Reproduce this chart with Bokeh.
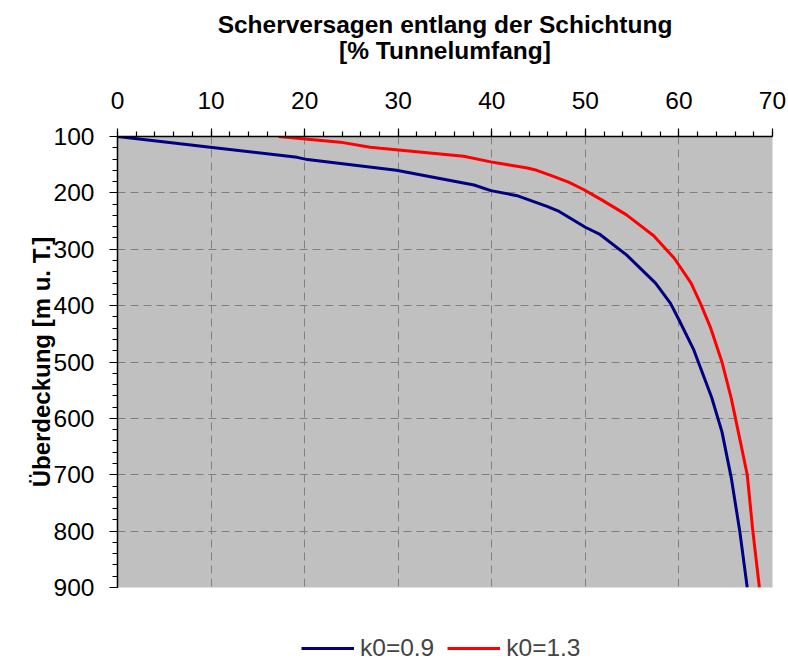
from bokeh.plotting import figure
from bokeh.layouts import column
from bokeh.models import (Range1d, SingleIntervalTicker, Legend, LegendItem, Title)
from bokeh.embed import file_html
from bokeh.resources import INLINE

# ---- data ----
k09_x = [0, 6.7, 9.9, 19.2, 20.3, 29.8, 38.1, 39.9, 42.7, 45.9, 47.2, 50.0,
         51.5, 54.4, 57.5, 59.1, 60.0, 61.6, 63.5, 64.6, 65.6, 66.5, 67.3]
k09_y = [100, 113, 119, 137, 141, 160, 186, 196, 205, 224, 233, 261,
         273, 310, 360, 396, 425, 479, 563, 624, 706, 800, 900]
k13_x = [17.2, 23.8, 27.0, 28.1, 37.0, 39.9, 43.8, 44.8, 46.3, 48.2, 49.8,
         51.7, 54.4, 57.3, 59.5, 61.3, 62.3, 63.4, 64.6, 65.6, 66.6, 67.3,
         67.9, 68.6]
k13_y = [100, 110, 119, 121, 135, 145, 156, 160, 169, 181, 194,
         212, 239, 276, 316, 360, 396, 440, 500, 565, 644, 700,
         800, 900]
series_names = ["k0=0.9", "k0=1.3"]
series_colors = ["#000080", "#FF0000"]
title_lines = ["Scherversagen entlang der Schichtung", "[% Tunnelumfang]"]
y_label = "Überdeckung [m u. T.]"
x_min, x_max = 0, 70
y_min, y_max = 100, 900

FONT = "Liberation Sans"

p = figure(width=788, height=601, frame_width=655, frame_height=451,
           x_range=Range1d(x_min, x_max), y_range=Range1d(y_max, y_min),
           x_axis_location="above", output_backend="svg",
           toolbar_location=None, title=title_lines[0])
p.min_border_left = 117
p.min_border_right = 16
p.min_border_top = 136
p.min_border_bottom = 14

p.border_fill_color = "#FFFFFF"
p.outline_line_color = None
p.background_fill_color = "#C0C0C0"

# titles: spacer between axis and second title line, then the two lines
spacer = Title(text=" ", align="center", text_font=FONT,
               text_font_size="24.5px", standoff=-5)
p.add_layout(spacer, "above")
t2 = Title(text=title_lines[1], align="center", text_font=FONT,
           text_font_size="24.5px", text_font_style="bold",
           text_color="black", standoff=2)
p.add_layout(t2, "above")
p.title.text_font = FONT
p.title.text_font_size = "24.5px"
p.title.text_font_style = "bold"
p.title.text_color = "black"
p.title.align = "center"
p.title.offset = 0
p.title.standoff = -8

p.xaxis.ticker = SingleIntervalTicker(interval=10, num_minor_ticks=5)
p.yaxis.ticker = SingleIntervalTicker(interval=100, num_minor_ticks=5)

for ax in (p.xaxis, p.yaxis):
    ax.axis_line_color = "black"
    ax.axis_line_width = 1.5
    ax.major_tick_line_color = "black"
    ax.minor_tick_line_color = "black"
    ax.major_tick_line_width = 1.2
    ax.minor_tick_line_width = 1.2
    ax.major_tick_out = 8
    ax.major_tick_in = 0
    ax.minor_tick_out = 5
    ax.minor_tick_in = 0
    ax.major_label_text_font = FONT
    ax.major_label_text_font_size = "24.5px"
    ax.major_label_text_color = "black"

p.xaxis.major_label_standoff = 20
p.yaxis.major_label_standoff = 15

p.yaxis.axis_label = y_label
p.yaxis.axis_label_text_font = FONT
p.yaxis.axis_label_text_font_size = "24px"
p.yaxis.axis_label_text_font_style = "bold"
p.yaxis.axis_label_text_color = "black"
p.yaxis.axis_label_standoff = -4

for g in (p.xgrid, p.ygrid):
    g.grid_line_color = "#808080"
    g.grid_line_width = 1
    g.grid_line_dash = "8 5"

p.line(k09_x, k09_y, line_color=series_colors[0], line_width=3)
p.line(k13_x, k13_y, line_color=series_colors[1], line_width=3)

# legend strip below the chart (its frame is aligned with the chart's frame)
pl = figure(width=788, height=60, x_range=Range1d(x_min, x_max),
            y_range=Range1d(y_max, y_min),
            x_axis_type=None, y_axis_type=None, output_backend="svg",
            toolbar_location=None)
pl.min_border = 0
pl.outline_line_color = None
pl.xgrid.visible = False
pl.ygrid.visible = False
pl.background_fill_color = "#FFFFFF"
pl.border_fill_color = "#FFFFFF"
# one-point lines: nothing visible in the strip, but they carry the legend style
lr1 = pl.line(k09_x[:1], k09_y[:1], line_color=series_colors[0], line_width=3)
lr2 = pl.line(k13_x[:1], k13_y[:1], line_color=series_colors[1], line_width=3)
legend = Legend(items=[LegendItem(label=series_names[0], renderers=[lr1]),
                       LegendItem(label=series_names[1], renderers=[lr2])],
                orientation="horizontal", location=(184, -1),
                label_text_font=FONT, label_text_font_size="24.5px",
                glyph_width=53, glyph_height=20, label_standoff=6, spacing=13,
                padding=0, margin=0, border_line_color=None,
                background_fill_alpha=0)
pl.add_layout(legend, "center")

layout = column(p, pl, spacing=0)
open("out.html", "w").write(file_html(layout, INLINE))
